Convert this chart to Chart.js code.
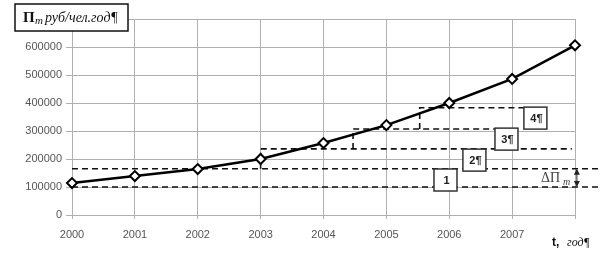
<!DOCTYPE html>
<html>
<head>
<meta charset="utf-8">
<script src="https://cdn.jsdelivr.net/npm/chart.js@4"></script>
<style>
html,body{margin:0;padding:0;background:#fff;}
#wrap{width:602px;height:255px;position:relative;}
</style>
</head>
<body>
<div id="wrap"><canvas id="c" width="602" height="255"></canvas></div>
<script>
// ---- data ----
const years = [2000, 2001, 2002, 2003, 2004, 2005, 2006, 2007, 2008];
const values = [114000, 139000, 164000, 200000, 257000, 321000, 400000, 486000, 606000];
const yTicks = [0, 100000, 200000, 300000, 400000, 500000, 600000, 700000];

// dashed construction lines (x in years, y in rub/person)
const level1X = [2000, 2008.45];          const level1Y = [100000, 100000];
const level2X = [2000, 2008.45];          const level2Y = [165000, 165000];
const level3X = [2003, 2003, 2007.95];    const level3Y = [165000, 236000, 236000];
const level4X = [2004.47, 2004.47, 2006.76]; const level4Y = [236000, 307000, 307000];
const level5X = [2005.53, 2005.53, 2007.3];  const level5Y = [307000, 383000, 383000];

// numbered boxes
const boxLabels = ['1', '2¶', '3¶', '4¶'];
const boxX = [2005.94, 2006.40, 2006.91, 2007.37];
const boxY = [125000, 196000, 271000, 346000];

const deltaFrom = 100000, deltaTo = 165000, deltaX = 2008.03;

const pts = (xs, ys) => xs.map((x, i) => ({x: x, y: ys[i]}));
const dashed = (xs, ys) => ({
  data: pts(xs, ys), borderColor: '#111', borderWidth: 1.6, borderDash: [6, 4],
  pointRadius: 0, tension: 0, fill: false, clip: false, order: 2
});

const overlay = {
  id: 'overlay',
  afterDraw(chart) {
    const ctx = chart.ctx, xs = chart.scales.x, ys = chart.scales.y;
    ctx.save();
    // numbered boxes
    ctx.font = 'bold 11px "Liberation Sans", Arial, sans-serif';
    ctx.textAlign = 'center'; ctx.textBaseline = 'middle';
    boxLabels.forEach((t, i) => {
      const cx = xs.getPixelForValue(boxX[i]), cy = ys.getPixelForValue(boxY[i]);
      const w = 23, h = 22;
      ctx.fillStyle = '#fff';
      ctx.fillRect(cx - w / 2, cy - h / 2, w, h);
      ctx.strokeStyle = '#333'; ctx.lineWidth = 1.5;
      ctx.strokeRect(cx - w / 2, cy - h / 2, w, h);
      ctx.fillStyle = '#222';
      ctx.fillText(t, cx + 1, cy + 1);
    });
    // delta arrow
    const ax = xs.getPixelForValue(deltaX);
    const ay1 = ys.getPixelForValue(deltaFrom), ay2 = ys.getPixelForValue(deltaTo);
    ctx.strokeStyle = '#222'; ctx.lineWidth = 1; ctx.setLineDash([]);
    ctx.beginPath(); ctx.moveTo(ax, ay1 - 2); ctx.lineTo(ax, ay2 + 2); ctx.stroke();
    ctx.fillStyle = '#222';
    ctx.beginPath(); ctx.moveTo(ax, ay2); ctx.lineTo(ax - 3, ay2 + 6); ctx.lineTo(ax + 3, ay2 + 6); ctx.closePath(); ctx.fill();
    ctx.beginPath(); ctx.moveTo(ax, ay1); ctx.lineTo(ax - 3, ay1 - 6); ctx.lineTo(ax + 3, ay1 - 6); ctx.closePath(); ctx.fill();
    // delta label
    ctx.textAlign = 'left'; ctx.textBaseline = 'alphabetic';
    ctx.fillStyle = '#444';
    ctx.font = '14px "Liberation Serif", serif';
    ctx.fillText('ΔΠ', 541, 182);
    ctx.font = 'italic 10px "Liberation Serif", serif';
    ctx.fillText('m', 563, 185);
    // title box
    ctx.fillStyle = '#fff';
    ctx.fillRect(15, 4, 113, 27);
    ctx.strokeStyle = '#111'; ctx.lineWidth = 1.5;
    ctx.strokeRect(15, 4, 113, 27);
    ctx.fillStyle = '#111';
    ctx.font = 'bold 15px "Liberation Serif", serif';
    ctx.fillText('Π', 23, 22);
    ctx.font = 'italic 11px "Liberation Serif", serif';
    ctx.fillText('m', 35, 24);
    ctx.font = 'italic 14px "Liberation Serif", serif';
    ctx.fillText('руб/чел.год¶', 45, 22);
    // x-axis title
    ctx.font = 'bold 12px "Liberation Sans", Arial, sans-serif';
    ctx.fillText('t,', 552, 246);
    ctx.font = 'italic 12px "Liberation Serif", serif';
    ctx.fillText('год¶', 567, 246);
    ctx.restore();
  }
};

new Chart(document.getElementById('c'), {
  type: 'line',
  data: {
    datasets: [
      {
        data: pts(years, values), borderColor: '#000', borderWidth: 2.5, tension: 0,
        pointStyle: 'rectRot', pointRadius: 5, pointBorderWidth: 2,
        pointBackgroundColor: '#fff', pointBorderColor: '#000', fill: false, clip: false, order: 0
      },
      dashed(level1X, level1Y),
      dashed(level2X, level2Y),
      dashed(level3X, level3Y),
      dashed(level4X, level4Y),
      dashed(level5X, level5Y)
    ]
  },
  options: {
    responsive: false, animation: false,
    layout: { padding: { top: 19, right: 27, left: 0, bottom: 0 } },
    plugins: { legend: { display: false }, tooltip: { enabled: false } },
    scales: {
      x: {
        type: 'linear', min: 2000, max: 2008,
        afterFit(s) { s.height = 40; },
        grid: { color: '#b0b0b0', lineWidth: 1, tickLength: 4, drawTicks: true },
        border: { color: '#b0b0b0' },
        ticks: {
          stepSize: 1, padding: 9, color: '#555',
          font: { family: '"Liberation Sans", Arial, sans-serif', size: 11 },
          callback: v => (v === 2008 ? '' : String(v))
        }
      },
      y: {
        min: 0, max: 700000,
        afterFit(s) { s.width = 72; },
        afterBuildTicks(s) { s.ticks = yTicks.map(v => ({value: v})); },
        grid: { color: '#b0b0b0', lineWidth: 1, tickLength: 6 },
        border: { color: '#b0b0b0' },
        ticks: {
          padding: 4, color: '#555',
          font: { family: '"Liberation Sans", Arial, sans-serif', size: 11 },
          callback: v => (v === 700000 ? '' : String(v))
        }
      }
    }
  },
  plugins: [overlay]
});
</script>
</body>
</html>
